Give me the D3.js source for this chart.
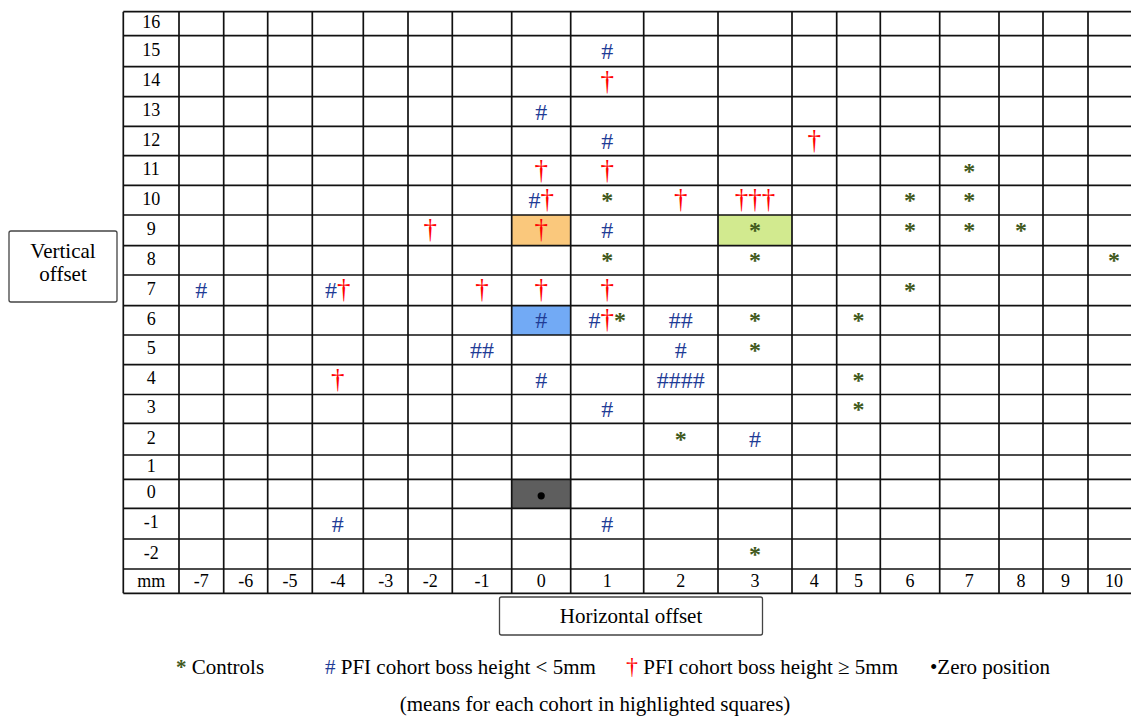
<!DOCTYPE html>
<html>
<head>
<meta charset="utf-8">
<script src="https://cdn.jsdelivr.net/npm/d3@7"></script>
<style>
  body { margin: 0; background: #fff; }
</style>
</head>
<body>
<div id="chart"></div>
<script>
// offsets in mm (column and row categories of the grid)
const xOffsets = [-7, -6, -5, -4, -3, -2, -1, 0, 1, 2, 3, 4, 5, 6, 7, 8, 9, 10];
const yOffsets = [16, 15, 14, 13, 12, 11, 10, 9, 8, 7, 6, 5, 4, 3, 2, 1, 0, -1, -2];

// one entry per subject, [horizontal, vertical]
const controls = [[7,11],[1,10],[6,10],[7,10],[6,9],[7,9],[8,9],[1,8],[3,8],[10,8],[6,7],
  [1,6],[3,6],[5,6],[3,5],[5,4],[5,3],[2,2],[3,-2]];
const pfiLow = [[1,15],[0,13],[1,12],[0,10],[1,9],[-7,7],[-4,7],[1,6],[2,6],[2,6],[-1,5],[-1,5],
  [2,5],[0,4],[2,4],[2,4],[2,4],[2,4],[1,3],[3,2],[-4,-1],[1,-1]];
const pfiHigh = [[1,14],[4,12],[0,11],[1,11],[0,10],[2,10],[3,10],[3,10],[3,10],[-2,9],
  [-4,7],[-1,7],[0,7],[1,7],[1,6],[-4,4]];

// cohort means, drawn in highlighted squares
const meanCohort = ['pfiHigh', 'controls', 'pfiLow'];
const meanX = [0, 3, 0];
const meanY = [9, 9, 6];
const zeroPos = [0, 0];

const legendKeys = ['controls', 'pfiLow', 'pfiHigh', 'zero'];
const legendLabels = ['Controls', 'PFI cohort boss height < 5mm', 'PFI cohort boss height \u2265 5mm', 'Zero position'];
const footNote = '(means for each cohort in highlighted squares)';

// ---- layout (table cells are not all the same size in the original) ----
const W = 1131, H = 718;
const FONT = '"Liberation Serif", "DejaVu Serif", "Times New Roman", serif';
const gridLeft = 123.3, gridTop = 11.7;
const colSizes = [55.7, 44.7, 44, 44.6, 51, 44.7, 44.3, 59.4, 59, 73, 74.3, 74, 44.7, 43.6, 59.4, 59.3, 44, 45, 52];
const rowSizes = [24, 31, 30, 29.6, 29.4, 29.6, 29.7, 30.7, 29.3, 30.7, 29.3, 29.7, 29.8, 28.8, 31.7, 24.3, 29, 30.7, 30, 24.3];

const style = {
  controls: {glyph: '*', color: '#41591c'},
  pfiLow:   {glyph: '#', color: '#1f3c96'},
  pfiHigh:  {glyph: '\u2020', color: '#ff0000'},
  zero:     {glyph: '\u2022', color: '#000'}
};
const meanFill = {pfiHigh: '#fac87c', controls: '#d2ea8f', pfiLow: '#72aaf5'};

// band-like ordinal scale with uneven band sizes
function unevenBand(domain, sizes, start) {
  const edges = Array.from(d3.cumsum([start, ...sizes]));
  const s = d3.scaleOrdinal().domain(domain).range(edges.slice(0, -1));
  s.size = d => sizes[domain.indexOf(d)];
  s.mid = d => s(d) + s.size(d) / 2;
  return s;
}
const x = unevenBand(['label', ...xOffsets], colSizes, gridLeft);
const y = unevenBand([...yOffsets, 'mm'], rowSizes, gridTop);

const svg = d3.select('#chart').append('svg')
  .attr('width', W).attr('height', H)
  .attr('font-family', FONT)
  .style('font-family', FONT)
  .style('display', 'block');
svg.append('rect').attr('width', W).attr('height', H).attr('fill', '#fff');

// highlighted squares
const means = meanCohort.map((c, i) => ({cohort: c, x: meanX[i], y: meanY[i]}));
svg.append('g').selectAll('rect').data(means).join('rect')
  .attr('x', d => x(d.x)).attr('y', d => y(d.y))
  .attr('width', d => x.size(d.x)).attr('height', d => y.size(d.y))
  .attr('fill', d => meanFill[d.cohort]);
svg.append('rect')
  .attr('x', x(zeroPos[0])).attr('y', y(zeroPos[1]))
  .attr('width', x.size(zeroPos[0])).attr('height', y.size(zeroPos[1]))
  .attr('fill', '#5e5e5e');

// grid lines
const colEdges = [...x.range(), x(10) + x.size(10)];
const rowEdges = [...y.range(), y('mm') + y.size('mm')];
const grid = svg.append('g').attr('stroke', '#111').attr('stroke-width', 1.7);
grid.selectAll('.v').data(colEdges).join('line')
  .attr('x1', d => d).attr('x2', d => d)
  .attr('y1', rowEdges[0]).attr('y2', rowEdges[rowEdges.length - 1]);
grid.selectAll('.h').data(rowEdges).join('line')
  .attr('y1', d => d).attr('y2', d => d)
  .attr('x1', colEdges[0]).attr('x2', colEdges[colEdges.length - 1]);

// row and column labels
svg.append('g').selectAll('text').data(yOffsets).join('text')
  .attr('x', x.mid('label')).attr('y', d => y.mid(d) + 4.5)
  .attr('text-anchor', 'middle').attr('font-size', 18)
  .text(d => d);
svg.append('g').selectAll('text').data(['mm', ...xOffsets]).join('text')
  .attr('x', d => x.mid(d === 'mm' ? 'label' : d)).attr('y', y.mid('mm') + 5.5)
  .attr('text-anchor', 'middle').attr('font-size', 18)
  .text(d => d);

// cell contents: count of subjects per cohort in each cell
const order = ['pfiLow', 'pfiHigh', 'controls'];
const all = [
  ...pfiLow.map(p => ({cohort: 'pfiLow', x: p[0], y: p[1]})),
  ...pfiHigh.map(p => ({cohort: 'pfiHigh', x: p[0], y: p[1]})),
  ...controls.map(p => ({cohort: 'controls', x: p[0], y: p[1]})),
  ...means
];
const cells = Array.from(d3.group(all, d => d.x + ',' + d.y), ([k, v]) => ({
  x: v[0].x, y: v[0].y,
  parts: order.map(c => ({cohort: c, n: v.filter(d => d.cohort === c).length})).filter(p => p.n > 0)
}));

const cellText = svg.append('g').selectAll('text').data(cells).join('text')
  .attr('x', d => x.mid(d.x)).attr('y', d => y.mid(d.y) + 8)
  .attr('text-anchor', 'middle').attr('font-size', 24);
cellText.selectAll('tspan').data(d => d.parts).join('tspan')
  .attr('fill', p => style[p.cohort].color)
  .attr('font-size', p => p.cohort === 'pfiHigh' ? 27 : null)
  .attr('font-weight', p => p.cohort === 'controls' ? 'bold' : null)
  .text(p => style[p.cohort].glyph.repeat(p.n));

// zero position
svg.append('circle')
  .attr('cx', x.mid(zeroPos[0])).attr('cy', y.mid(zeroPos[1]) + 2)
  .attr('r', 3.6).attr('fill', '#000');

// axis title boxes
const vBox = svg.append('g');
vBox.append('rect').attr('x', 9).attr('y', 231).attr('width', 108).attr('height', 71)
  .attr('rx', 2).attr('fill', '#fff').attr('stroke', '#444').attr('stroke-width', 1.3);
vBox.append('text').attr('x', 63).attr('y', 258).attr('text-anchor', 'middle')
  .attr('font-size', 21).text('Vertical');
vBox.append('text').attr('x', 63).attr('y', 281).attr('text-anchor', 'middle')
  .attr('font-size', 21).text('offset');

const hBox = svg.append('g');
hBox.append('rect').attr('x', 499.5).attr('y', 597).attr('width', 263).attr('height', 38)
  .attr('rx', 2).attr('fill', '#fff').attr('stroke', '#444').attr('stroke-width', 1.3);
hBox.append('text').attr('x', 631).attr('y', 623).attr('text-anchor', 'middle')
  .attr('font-size', 21).text('Horizontal offset');

// legend
const legendX = [176, 325, 626, 930];
const leg = svg.append('g').selectAll('text').data(legendKeys).join('text')
  .attr('x', (d, i) => legendX[i]).attr('y', 674).attr('font-size', 21);
leg.append('tspan')
  .attr('fill', d => style[d].color)
  .attr('font-weight', d => d === 'controls' ? 'bold' : null)
  .attr('font-size', d => d === 'pfiHigh' ? 24 : null)
  .text(d => style[d].glyph);
leg.append('tspan').text((d, i) => (d === 'zero' ? '' : ' ') + legendLabels[i]);

svg.append('text').attr('x', 595).attr('y', 711).attr('text-anchor', 'middle')
  .attr('font-size', 21).text(footNote);
</script>
</body>
</html>
